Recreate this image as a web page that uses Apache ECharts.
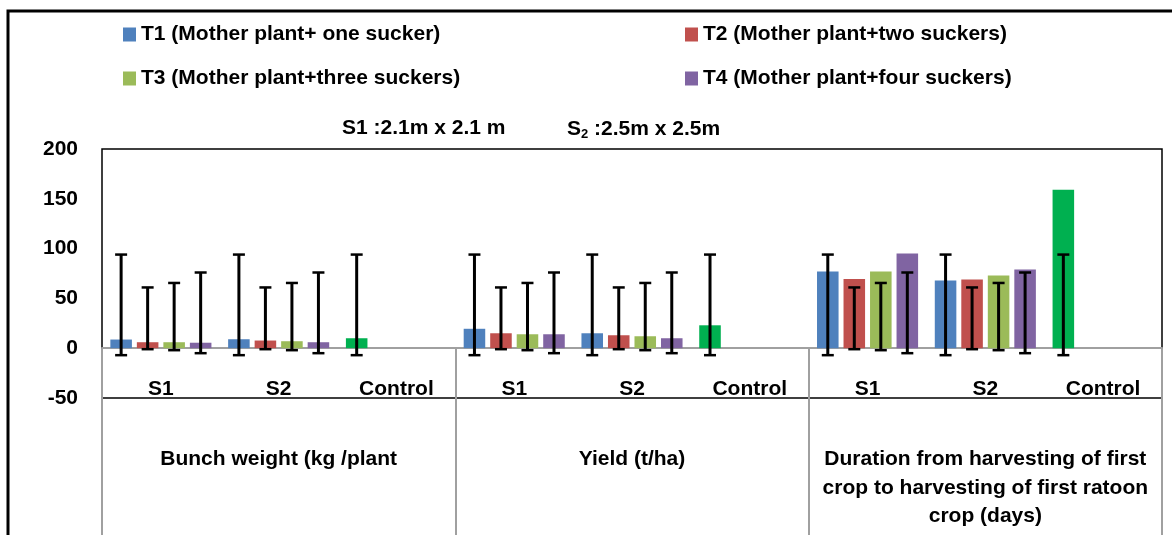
<!DOCTYPE html>
<html>
<head>
<meta charset="utf-8">
<script src="https://cdn.jsdelivr.net/npm/echarts@6/dist/echarts.min.js"></script>
<style>
html,body{margin:0;padding:0;background:#fff;}
#chart{width:1172px;height:535px;}
</style>
</head>
<body>
<div id="chart"></div>
<script>
// ---- data ----
const categories = ['S1', 'S2', 'Control', 'S1', 'S2', 'Control', 'S1', 'S2', 'Control'];
const groups = ['Bunch weight (kg /plant', 'Yield (t/ha)', 'Duration from harvesting of first\ncrop to harvesting of first ratoon\ncrop (days)'];
const seriesNames = ['T1 (Mother plant+ one sucker)', 'T2 (Mother plant+two suckers)', 'T3 (Mother plant+three suckers)', 'T4 (Mother plant+four suckers)'];
const yTicks = [-50, 0, 50, 100, 150, 200];

const t1 = [8.7, 9, null, 19.5, 15, null, 77, 68, null];
const t2 = [6, 7.7, null, 15, 13, null, 69.5, 69, null];
const t3 = [6, 7, null, 14, 12, null, 77, 73, null];
const t4 = [5.5, 6, null, 14, 10, null, 95, 79, null];
const control = [null, null, 10, null, null, 23, null, null, 159];

// error bar ends (low, high)
const t1ErrLow  = [-7, -7, -7, -7, -7, -7, -7, -7, -7];
const t1ErrHigh = [94, 94, 94, 94, 94, 94, 94, 94, 94];
const t2ErrLow  = [-1, -1, null, -1, -1, null, -1, -1, null];
const t2ErrHigh = [61, 61, null, 61, 61, null, 61, 61, null];
const t3ErrLow  = [-2, -2, null, -2, -2, null, -2, -2, null];
const t3ErrHigh = [65.5, 65.5, null, 65.5, 65.5, null, 65.5, 65.5, null];
const t4ErrLow  = [-5, -5, null, -5, -5, null, -5, -5, null];
const t4ErrHigh = [76, 76, null, 76, 76, null, 76, 76, null];

const subtitle1 = 'S1 :2.1m x 2.1 m';
const subtitle2 = '{a|S}{s|2}{a| :2.5m x 2.5m}';

// ---- styles ----
const colors = ['#4F81BD', '#C0504D', '#9BBB59', '#8064A2'];
const controlColor = '#00B050';
const FONT = "'Liberation Sans', Arial, sans-serif";
const FS = 21;
const BAR_W = 18.3; // percent of band
const BAR_GAP = 23; // percent of bar width
const gray = '#A0A0A0';

const t1Data = t1.map((v, i) => control[i] != null ? { value: control[i], itemStyle: { color: controlColor } } : v);
const barSeries = [t1Data, t2, t3, t4].map((d, s) => ({
  name: seriesNames[s],
  type: 'bar',
  data: d,
  barWidth: BAR_W + '%',
  barGap: BAR_GAP + '%',
  itemStyle: { color: colors[s] },
  z: 2
}));

const errSets = [[t1ErrLow, t1ErrHigh], [t2ErrLow, t2ErrHigh], [t3ErrLow, t3ErrHigh], [t4ErrLow, t4ErrHigh]];
const errSeries = errSets.map((pair, s) => ({
  name: 'err' + s,
  type: 'custom',
  z: 5,
  encode: { x: 0, y: [1, 2] },
  data: pair[0].map((lo, i) => lo == null ? null : [i, lo, pair[1][i]]).filter(d => d),
  renderItem: function (params, api) {
    const idx = api.value(0);
    const band = api.size([1, 0])[0];
    const bw = band * BAR_W / 100;
    const off = (s - 1.5) * bw * (1 + BAR_GAP / 100);
    const x = api.coord([idx, 0])[0] + off;
    const yH = api.coord([idx, api.value(2)])[1];
    const yL = api.coord([idx, api.value(1)])[1];
    const cap = 6;
    const st = { stroke: '#000', lineWidth: 3 };
    return {
      type: 'group',
      children: [
        { type: 'line', shape: { x1: x, y1: yH, x2: x, y2: yL }, style: st },
        { type: 'line', shape: { x1: x - cap, y1: yH, x2: x + cap, y2: yH }, style: { stroke: '#000', lineWidth: 2.5 } },
        { type: 'line', shape: { x1: x - cap, y1: yL, x2: x + cap, y2: yL }, style: { stroke: '#000', lineWidth: 2.5 } }
      ]
    };
  }
}));

const txt = { fontFamily: FONT, fontSize: FS, fontWeight: 'bold', color: '#000' };

const chart = echarts.init(document.getElementById('chart'));
chart.setOption({
  animation: false,
  backgroundColor: '#fff',
  textStyle: { fontFamily: FONT },
  graphic: [{
    type: 'rect', silent: true, z: -10,
    shape: { x: 8, y: 11, width: 1400, height: 800 },
    style: { fill: 'none', stroke: '#000', lineWidth: 3 }
  }],
  title: [
    { text: subtitle1, left: 342, top: 118, padding: 0, textStyle: txt },
    { text: subtitle2, left: 567, top: 118, padding: 0,
      textStyle: Object.assign({}, txt, {
        rich: {
          a: txt,
          s: Object.assign({}, txt, { fontSize: 13, padding: [10, 0, 0, 0] })
        }
      })
    }
  ],
  legend: [
    { data: [seriesNames[0], seriesNames[2]], orient: 'vertical', left: 123, top: 24, itemWidth: 13, itemHeight: 14, itemGap: 23, icon: 'rect', padding: 0, textStyle: txt },
    { data: [seriesNames[1], seriesNames[3]], orient: 'vertical', left: 685, top: 24, itemWidth: 13, itemHeight: 14, itemGap: 23, icon: 'rect', padding: 0, textStyle: txt }
  ],
  grid: { left: 102, top: 149, right: 10, bottom: 137, show: true, borderColor: '#000', borderWidth: 1.5, containLabel: false },
  xAxis: [
    {
      type: 'category',
      data: categories,
      position: 'bottom',
      axisLine: { show: true, onZero: true, lineStyle: { color: gray, width: 2 } },
      axisTick: { show: true, interval: function (i) { return i % 3 === 0; }, length: 188, lineStyle: { color: gray, width: 2 } },
      axisLabel: Object.assign({ interval: 0, margin: -19 }, txt),
      splitLine: { show: false }
    },
    {
      type: 'category',
      data: groups,
      position: 'bottom',
      axisLine: { show: false, onZero: false },
      axisTick: { show: false },
      axisLabel: Object.assign({ interval: 0, margin: 47, lineHeight: 28.5, align: 'center' }, txt),
      splitLine: { show: false }
    }
  ],
  yAxis: {
    type: 'value',
    min: yTicks[0],
    max: yTicks[yTicks.length - 1],
    interval: 50,
    axisLine: { show: false },
    axisTick: { show: false },
    splitLine: { show: false },
    axisLabel: Object.assign({ margin: 24 }, txt)
  },
  series: barSeries.concat(errSeries)
});
</script>
</body>
</html>
